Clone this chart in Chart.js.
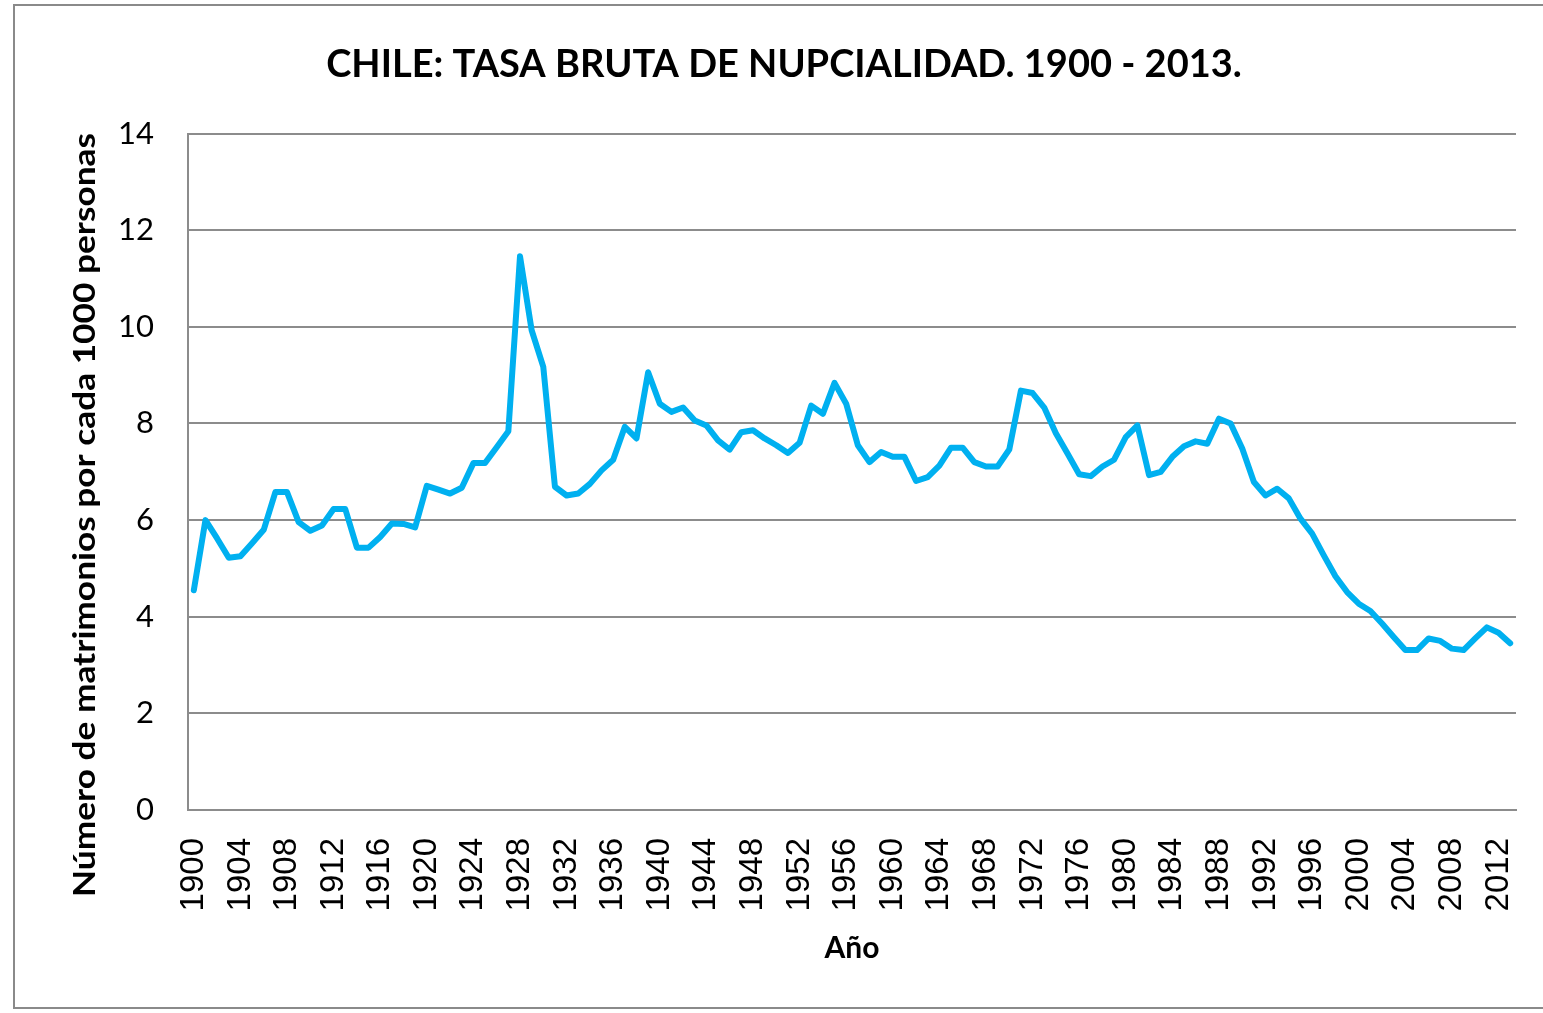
<!DOCTYPE html>
<html lang="es">
<head>
<meta charset="utf-8">
<title>Chile: tasa bruta de nupcialidad 1900 - 2013</title>
<script src="https://cdn.jsdelivr.net/npm/chart.js@4.4.1/dist/chart.umd.min.js"></script>
<style>
  html, body { margin: 0; padding: 0; background: #fff; overflow: hidden; }
  #frame {
    position: absolute; left: 13px; top: 4px;
    width: 1600px; height: 1005px;
    border: 2px solid #8a8a8a; border-right: none; box-sizing: border-box;
  }
  #wrap { position: absolute; left: 14px; top: 5px; width: 1540px; height: 1003px; }
</style>
</head>
<body>
<div id="frame"></div>
<div id="wrap"><canvas id="chart"></canvas></div>
<script>
'use strict';

// ---- datos ----
const START_YEAR = 1900;
const END_YEAR = 2013;
const LABEL_STEP = 4;

const years = [];
for (let y = START_YEAR; y <= END_YEAR; y++) years.push(y);

// matrimonios por cada 1000 personas
const tasa = [
  4.55, 6.00, 5.62, 5.22, 5.25, 5.52, 5.80, 6.58, 6.58, 5.96,   // 1900-1909
  5.78, 5.89, 6.23, 6.23, 5.43, 5.43, 5.65, 5.93, 5.92, 5.85,   // 1910-1919
  6.71, 6.63, 6.55, 6.67, 7.18, 7.18, 7.51, 7.84, 11.46, 9.93,  // 1920-1929
  9.17, 6.69, 6.51, 6.55, 6.75, 7.03, 7.25, 7.93, 7.69, 9.06,   // 1930-1939
  8.41, 8.24, 8.33, 8.06, 7.96, 7.65, 7.46, 7.82, 7.86, 7.69,   // 1940-1949
  7.55, 7.39, 7.60, 8.37, 8.20, 8.84, 8.41, 7.55, 7.20, 7.41,   // 1950-1959
  7.31, 7.31, 6.81, 6.89, 7.13, 7.50, 7.50, 7.20, 7.11, 7.11,   // 1960-1969
  7.46, 8.68, 8.63, 8.33, 7.80, 7.38, 6.95, 6.91, 7.11, 7.25,   // 1970-1979
  7.72, 7.96, 6.93, 7.00, 7.31, 7.53, 7.63, 7.58, 8.10, 8.00,   // 1980-1989
  7.48, 6.79, 6.51, 6.65, 6.45, 6.03, 5.72, 5.27, 4.84, 4.51,   // 1990-1999
  4.27, 4.12, 3.86, 3.58, 3.31, 3.31, 3.55, 3.50, 3.34, 3.31,   // 2000-2009
  3.55, 3.78, 3.67, 3.45                                        // 2010-2013
];

const TITULO = 'CHILE: TASA BRUTA DE NUPCIALIDAD. 1900 - 2013.';
const TITULO_Y = 'Número de matrimonios por cada 1000 personas';
const TITULO_X = 'Año';

const GRID_GRAY = '#8c8c8c';
const LINE_BLUE = '#00b0f0';

// titulo del eje Y dibujado a mano (en Excel no queda centrado en el eje)
const yTitlePlugin = {
  id: 'yTitle',
  afterDraw(chart) {
    const ctx = chart.ctx;
    ctx.save();
    ctx.font = 'bold 31px Lato, "Open Sans", sans-serif';
    const w = ctx.measureText(TITULO_Y).width;
    ctx.translate(71, 510);
    ctx.rotate(-Math.PI / 2);
    ctx.scale(764 / w, 1);   // estirar al largo del original
    ctx.fillStyle = '#000';
    ctx.textAlign = 'center';
    ctx.textBaseline = 'middle';
    ctx.fillText(TITULO_Y, 0, 0);
    ctx.restore();
  }
};

new Chart(document.getElementById('chart'), {
  type: 'line',
  data: {
    labels: years,
    datasets: [{
      data: tasa,
      borderColor: LINE_BLUE,
      borderWidth: 6,
      borderJoinStyle: 'round',
      borderCapStyle: 'round',
      pointRadius: 0,
      tension: 0,
      fill: false
    }]
  },
  options: {
    responsive: true,
    maintainAspectRatio: false,
    animation: false,
    layout: { padding: 0 },
    plugins: {
      legend: { display: false },
      tooltip: { enabled: false },
      title: {
        display: true,
        text: TITULO,
        color: '#000',
        font: { family: 'Lato, "Open Sans", sans-serif', size: 38, weight: 'bold' },
        padding: { top: 37, bottom: 46 }
      }
    },
    scales: {
      x: {
        offset: true,
        grid: { display: false, drawTicks: false },
        border: { display: true, color: GRID_GRAY, width: 2 },
        ticks: {
          autoSkip: false,
          minRotation: 90,
          maxRotation: 90,
          padding: 28,
          color: '#000',
          font: { family: '"Liberation Sans", Arial, sans-serif', size: 33 },
          callback(value, index) {
            const y = years[index];
            return (y - START_YEAR) % LABEL_STEP === 0 ? String(y) : null;
          }
        },
        title: {
          display: true,
          text: TITULO_X,
          color: '#000',
          font: { family: 'Lato, "Open Sans", sans-serif', size: 30, weight: 'bold' },
          padding: { top: 0, bottom: 42 }
        },
        afterFit(scale) {
          scale.height = 198;
          scale.paddingLeft = 0;
          scale.paddingRight = 0;
        }
      },
      y: {
        min: 0,
        max: 14,
        ticks: {
          stepSize: 2,
          padding: 34,
          color: '#000',
          font: { family: 'Lato, "Open Sans", sans-serif', size: 31 }
        },
        grid: { color: GRID_GRAY, lineWidth: 2, drawTicks: false },
        border: { display: true, color: GRID_GRAY, width: 2 },
        afterFit(scale) { scale.width = 174; }
      },
      yRight: {
        position: 'right',
        display: true,
        grid: { display: false, drawTicks: false },
        border: { display: false },
        ticks: { display: false },
        afterFit(scale) { scale.width = 38; }
      }
    }
  },
  plugins: [yTitlePlugin]
});
</script>
</body>
</html>
